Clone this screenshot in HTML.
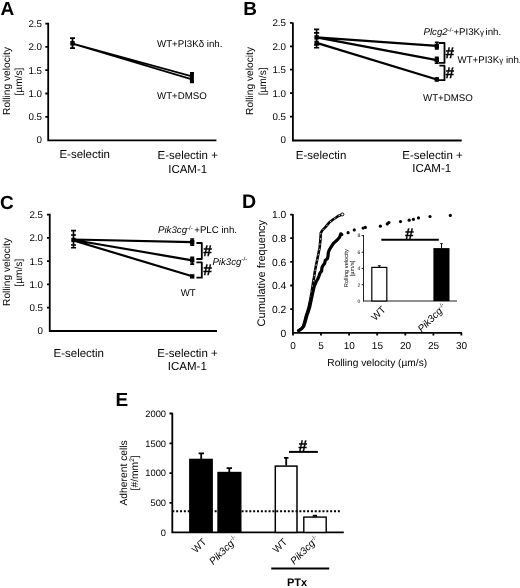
<!DOCTYPE html>
<html><head><meta charset="utf-8">
<style>
html,body{margin:0;padding:0;background:#fff;}
svg{display:block;filter:blur(0.35px);}
text{font-family:"Liberation Sans",sans-serif;fill:#000;text-rendering:geometricPrecision;}
.pl{font-weight:bold;font-size:19px;}
.tk{font-size:9.8px;}
.xl{font-size:11.5px;}
.an{font-size:9.7px;}
.yl{font-size:10.2px;}
.hs{font-size:15.5px;font-weight:bold;stroke:#000;stroke-width:0.35px;}
</style></head><body>
<svg width="520" height="588" viewBox="0 0 520 588">
<rect width="520" height="588" fill="#fff"/>

<!-- ============ PANEL A ============ -->
<g id="A">
<text class="pl" x="0.5" y="14.8">A</text>
<g stroke="#000" stroke-width="1.8" fill="none">
<path d="M48.2,22.8V141.2M47.3,140.3H216.4"/>
<path d="M45.3,23.6H48M45.3,46.9H48M45.3,70.2H48M45.3,93.5H48M45.3,116.8H48"/>
</g>
<g class="tk" text-anchor="end">
<text x="42" y="26.9">2.5</text>
<text x="42" y="50.2">2.0</text>
<text x="42" y="73.5">1.5</text>
<text x="42" y="96.8">1.0</text>
<text x="42" y="120.1">0.5</text>
<text x="42" y="143.4">0</text>
</g>
<text class="yl" transform="translate(9.8,81) rotate(-90)" text-anchor="middle">Rolling velocity</text>
<text class="yl" transform="translate(22,81.6) rotate(-90)" text-anchor="middle">[µm/s]</text>
<g stroke="#000" fill="none">
<path d="M72.5,43.5L192,76.4M72.5,43.8L192,79.4" stroke-width="1.7"/>
<path d="M72.5,38.1V48.1M70,38.1H75M70,48.1H75" stroke-width="1.8"/>
<path d="M192,73.1V82.3M190,73.1H194M190,82.3H194" stroke-width="2"/>
</g>
<rect x="70.3" y="41.1" width="4.4" height="4.4" fill="#000"/>
<rect x="189.9" y="73.6" width="4" height="8.4" fill="#000"/>
<text class="an" x="157" y="47">WT+PI3Kδ inh.</text>
<text class="an" x="157" y="98.9">WT+DMSO</text>
<text class="xl" x="59.4" y="158.4">E-selectin</text>
<text class="xl" x="157.5" y="158.7">E-selectin +</text>
<text class="xl" x="168.2" y="172.5">ICAM-1</text>
</g>

<!-- ============ PANEL B ============ -->
<g id="B">
<text class="pl" x="243.3" y="15">B</text>
<g stroke="#000" stroke-width="1.8" fill="none">
<path d="M292.9,22.4V141.4M292,140.5H461.7"/>
<path d="M290,22.9H292.7M290,46.3H292.7M290,69.7H292.7M290,93.2H292.7M290,116.6H292.7"/>
</g>
<g class="tk" text-anchor="end">
<text x="286" y="26.3">2.5</text>
<text x="286" y="49.7">2.0</text>
<text x="286" y="73.1">1.5</text>
<text x="286" y="96.6">1.0</text>
<text x="286" y="120">0.5</text>
<text x="286" y="143.4">0</text>
</g>
<text class="yl" transform="translate(253.2,81) rotate(-90)" text-anchor="middle">Rolling velocity</text>
<text class="yl" transform="translate(265.6,81.4) rotate(-90)" text-anchor="middle">[µm/s]</text>
<g stroke="#000" fill="none">
<path d="M316.6,37.3L436.8,45.8M316.6,37.3L436.8,60.1M316.6,42.9L436.8,79.5" stroke-width="2.2"/>
<path d="M316.6,29.4V47.75M314,29.4H319.2M314,32.9H319.2M314,47.75H319.2M314,45H319.2" stroke-width="1.6"/>
<path d="M436.8,42.2V48.9M434.8,42.2H438.8M434.8,48.9H438.8M436.8,57.3V63.2M434.8,57.3H438.8M434.8,63.2H438.8M436.8,77.1V81.5" stroke-width="1.6"/>
<path d="M438.9,43H444.5V62.9H438.9M439.4,65.7H444.5V80.2H438" stroke-width="1.8" stroke-linejoin="round"/>
</g>
<rect x="314.4" y="35.2" width="4.4" height="4.4" fill="#000"/>
<rect x="314.4" y="40.7" width="4.4" height="4.4" fill="#000"/>
<rect x="434.6" y="43.6" width="4.4" height="4.4" fill="#000"/>
<rect x="434.6" y="57.9" width="4.4" height="4.4" fill="#000"/>
<rect x="434.6" y="77.3" width="4.4" height="4.4" fill="#000"/>
<text class="hs" x="445.6" y="58">#</text>
<text class="hs" x="445.6" y="78">#</text>
<text class="an" x="423.5" y="35.4"><tspan font-style="italic">Plcg2</tspan><tspan font-size="6" dy="-3.5">-/-</tspan><tspan dy="3.5">+PI3K</tspan><tspan font-size="8">γ</tspan><tspan dx="-1.2"> inh.</tspan></text>
<text class="an" x="457.5" y="63.3">WT+PI3K<tspan font-size="8">γ</tspan> inh.</text>
<text class="an" x="423" y="101.2">WT+DMSO</text>
<text class="xl" x="295.8" y="158.5">E-selectin</text>
<text class="xl" x="402.3" y="159.2">E-selectin +</text>
<text class="xl" x="412.2" y="172.3">ICAM-1</text>
</g>

<!-- ============ PANEL C ============ -->
<g id="C">
<text class="pl" x="0" y="209.4">C</text>
<g stroke="#000" stroke-width="1.8" fill="none">
<path d="M49.75,213.7V331.9M48.85,331H217"/>
<path d="M47,214.6H49.5M47,237.9H49.5M47,261.2H49.5M47,284.4H49.5M47,307.7H49.5"/>
</g>
<g class="tk" text-anchor="end">
<text x="43" y="217.9">2.5</text>
<text x="43" y="241.2">2.0</text>
<text x="43" y="264.5">1.5</text>
<text x="43" y="287.7">1.0</text>
<text x="43" y="311">0.5</text>
<text x="43" y="334.3">0</text>
</g>
<text class="yl" transform="translate(10.4,272) rotate(-90)" text-anchor="middle">Rolling velocity</text>
<text class="yl" transform="translate(22.3,272.7) rotate(-90)" text-anchor="middle">[µm/s]</text>
<g stroke="#000" fill="none">
<path d="M73.5,239.5L192.2,242.2M73.5,240L192.2,260.3M73.5,240.5L192.2,276.2" stroke-width="2.2"/>
<path d="M73.5,230.6V247.75M71,230.6H76M71,235H76M71,245H76M71,247.75H76" stroke-width="1.6"/>
<path d="M192.2,239V245.1M190.2,239H194.2M190.2,245.1H194.2M192.2,257.2V264.1M190.2,257.2H194.2M190.2,264.1H194.2" stroke-width="1.6"/>
<path d="M196.4,243H201.8V259H196.4M196.4,262.4H201.8V277.7H196.4" stroke-width="1.8" stroke-linejoin="round"/>
</g>
<rect x="71.3" y="237.8" width="4.4" height="4.4" fill="#000"/>
<rect x="190" y="240" width="4.4" height="4.4" fill="#000"/>
<rect x="190" y="258.1" width="4.4" height="4.4" fill="#000"/>
<rect x="190" y="274.2" width="4.4" height="4.4" fill="#000"/>
<text class="hs" x="203.3" y="255.6">#</text>
<text class="hs" x="203.3" y="275.3">#</text>
<text class="an" x="158" y="233"><tspan font-style="italic">Pik3cg</tspan><tspan font-size="6" dy="-3.5">-/-</tspan><tspan dy="3.5" dx="-1.2"> +PLC inh.</tspan></text>
<text class="an" x="212.4" y="264.7"><tspan font-style="italic">Pik3cg</tspan><tspan font-size="6" dy="-3.5">-/-</tspan></text>
<text class="an" x="180.7" y="296.2">WT</text>
<text class="xl" x="53.5" y="357">E-selectin</text>
<text class="xl" x="157.3" y="357">E-selectin +</text>
<text class="xl" x="167.8" y="370">ICAM-1</text>
</g>

<!-- ============ PANEL D ============ -->
<g id="D">
<text class="pl" x="242.1" y="208.3" style="font-size:19.6px">D</text>
<g stroke="#000" stroke-width="1.8" fill="none">
<path d="M292.9,214V333.7M292,332.8H462"/>
<path d="M290.2,214.6H292.7M290.2,238.2H292.7M290.2,261.9H292.7M290.2,285.5H292.7M290.2,309.2H292.7"/>
<path d="M293,332.8V335.6M321,332.8V335.6M349.1,332.8V335.6M377.2,332.8V335.6M405.3,332.8V335.6M433.4,332.8V335.6M461.4,332.8V335.6"/>
</g>
<g class="tk" text-anchor="end" style="font-size:10.3px">
<text x="286.3" y="218.3">1.0</text>
<text x="286.3" y="241.9">0.8</text>
<text x="286.3" y="265.6">0.6</text>
<text x="286.3" y="289.2">0.4</text>
<text x="286.3" y="312.9">0.2</text>
<text x="286.3" y="336.5">0</text>
</g>
<g class="tk" text-anchor="middle" style="font-size:10px">
<text x="293" y="348.8">0</text>
<text x="321" y="348.8">5</text>
<text x="349.3" y="348.8">10</text>
<text x="377.4" y="348.8">15</text>
<text x="405.5" y="348.8">20</text>
<text x="433.6" y="348.8">25</text>
<text x="461.6" y="348.8">30</text>
</g>
<text class="yl" x="327.3" y="366.2">Rolling velocity (µm/s)</text>
<text transform="translate(264.8,273.2) rotate(-90)" text-anchor="middle" style="font-size:11px">Cumulative frequency</text>
<!-- curves -->
<g fill="none" stroke-linejoin="round" stroke-linecap="round">
<polyline stroke="#000" stroke-width="2.6" points="298.2,330.6 301,328.9 303.2,326.2 304.6,321 305.9,316 307.4,311.5 308.8,306.5 310.2,300 311.5,293 312.6,286 313.3,281 314,277.5 315,270.8 316.5,263.1 318.1,255.4 319.6,247.7 320.4,240 320.8,233 322.3,230.3 325.4,227.2 329.2,222.6 333.1,219.5 335.4,218 338.8,215.7 342.3,214.5"/>
<polyline stroke="#fff" stroke-width="0.8" stroke-dasharray="0.8 4.5" points="298.2,330.6 301,328.9 303.2,326.2 304.6,321 305.9,316 307.4,311.5 308.8,306.5 310.2,300 311.5,293 312.6,286 313.3,281 314,277.5 315,270.8 316.5,263.1 318.1,255.4 319.6,247.7 320.4,240 320.8,233 322.3,230.3 325.4,227.2 329.2,222.6 333.1,219.5 335.4,218 338.8,215.7 342.3,214.5"/>
<polyline stroke="#000" stroke-width="3.2" stroke-linejoin="miter" points="298.8,330.6 301.6,328.9 303.8,326.2 305.4,321 306.7,316 308.3,311.5 309.8,306.5 311.2,300 312.7,293 314.3,286 316.3,281.5 318,278.6 319,276 320,273 321.6,271 322,267.5 322.8,265.8 324.6,263.5 325.3,260.3 327.3,258.8 328,256.5 328.3,252.5 329.3,250 331,247 333.5,243.3 337,240.2 339.6,237.2 340.8,233.8"/>
</g>
<g fill="#000">
<circle cx="341.8" cy="234.5" r="1.6"/><circle cx="348.1" cy="232.7" r="1.6"/><circle cx="354.3" cy="229.9" r="1.6"/>
<circle cx="363.1" cy="228.1" r="1.6"/><circle cx="365.4" cy="227.4" r="1.6"/><circle cx="380.4" cy="226.2" r="1.6"/>
<circle cx="387.3" cy="223.9" r="1.6"/><circle cx="388.9" cy="222.5" r="1.6"/><circle cx="400.5" cy="221.6" r="1.6"/>
<circle cx="409.2" cy="220.2" r="1.6"/><circle cx="413.4" cy="219.3" r="1.6"/><circle cx="418.5" cy="217.9" r="1.6"/>
<circle cx="430" cy="216.5" r="1.6"/><circle cx="450.3" cy="215.4" r="1.6"/>
<circle cx="342.4" cy="214.4" r="1.5" fill="#fff" stroke="#000" stroke-width="0.9"/>
</g>
<!-- inset -->
<g stroke="#222" stroke-width="1" fill="none">
<path d="M363.5,235V301.5M363,301H457"/>
<path d="M361.6,235.6H363.5M361.6,252.2H363.5M361.6,268.4H363.5M361.6,284.7H363.5"/>
</g>
<g text-anchor="end" style="font-size:5px" fill="#222">
<text x="360.2" y="237.4">8</text>
<text x="360.2" y="254">6</text>
<text x="360.2" y="270.2">4</text>
<text x="360.2" y="286.5">2</text>
<text x="360.2" y="302.6">0</text>
</g>
<text transform="translate(347.9,268.2) rotate(-90)" text-anchor="middle" style="font-size:5.7px">Rolling velocity</text>
<text transform="translate(354.4,268.5) rotate(-90)" text-anchor="middle" style="font-size:5.7px">[µm/s]</text>
<rect x="371.8" y="267.4" width="15" height="33.6" fill="#fff" stroke="#000" stroke-width="1.2"/>
<path d="M379.3,267V265.8M377.8,265.8H380.8" stroke="#000" stroke-width="1"/>
<rect x="433.4" y="248.1" width="16.1" height="53" fill="#000"/>
<path d="M441.5,248.5V243.6M440.3,243.6H442.7" stroke="#000" stroke-width="1"/>
<text class="hs" x="405" y="238.5">#</text>
<path d="M381.3,239.7H438.8" stroke="#000" stroke-width="2"/>
<text transform="translate(386.2,310.3) rotate(-45)" text-anchor="end" style="font-size:10px">WT</text>
<text transform="translate(447,307.5) rotate(-45)" text-anchor="end" style="font-size:10px"><tspan font-style="italic">Pik3cg</tspan><tspan font-size="6" dy="-3.5">-/-</tspan></text>
</g>

<!-- ============ PANEL E ============ -->
<g id="E">
<text class="pl" x="115.5" y="406.2">E</text>
<g stroke="#000" stroke-width="1.8" fill="none">
<path d="M172.3,412.7V533.3M171.4,532.4H343.8"/>
<path d="M169.5,413.5H172.1M169.5,443.3H172.1M169.5,473.1H172.1M169.5,502.8H172.1"/>
</g>
<g class="tk" text-anchor="end" style="font-size:9.3px">
<text x="166" y="416.8">2000</text>
<text x="166" y="446.6">1500</text>
<text x="166" y="476.4">1000</text>
<text x="166" y="506.1">500</text>
<text x="166" y="535.8">0</text>
</g>
<text transform="translate(127,472.9) rotate(-90)" text-anchor="middle" style="font-size:10.3px">Adherent cells</text>
<text transform="translate(138.4,472.9) rotate(-90)" text-anchor="middle" style="font-size:10.3px">[#/mm<tspan font-size="6.5" dy="-4">2</tspan><tspan dy="4">]</tspan></text>
<rect x="189.1" y="458.7" width="23.8" height="73.7" fill="#000"/>
<rect x="217.3" y="471.8" width="24.2" height="60.6" fill="#000"/>
<rect x="275.3" y="466.1" width="21.7" height="66.3" fill="#fff" stroke="#000" stroke-width="1.5"/>
<rect x="303.8" y="517.1" width="22.4" height="15.3" fill="#fff" stroke="#000" stroke-width="1.4"/><rect x="312.7" y="514.8" width="4.3" height="2" fill="#000"/>
<g stroke="#000" fill="none" stroke-width="1.8">
<path d="M201.2,459V453.3M198.6,453.3H204"/>
<path d="M229.3,472V468.1M226.6,468.1H232"/>
<path d="M286.2,465.5V457.9M284,457.9H288.5"/>
<path d="M172.3,511.2H341" stroke-width="2" stroke-dasharray="2 1.85"/>
<path d="M289,451.9H317.9" stroke-width="2"/>
<path d="M271.25,568.5H329.2" stroke-width="2"/>
</g>
<text class="hs" x="298.5" y="450.8">#</text>
<g style="font-size:10px" text-anchor="end">
<text transform="translate(207,542.5) rotate(-45)">WT</text>
<text transform="translate(238.5,540) rotate(-45)"><tspan font-style="italic">Pik3cg</tspan><tspan font-size="6" dy="-3.5">-/-</tspan></text>
<text transform="translate(287.7,542.5) rotate(-45)">WT</text>
<text transform="translate(319.5,539.8) rotate(-45)"><tspan font-style="italic">Pik3cg</tspan><tspan font-size="6" dy="-3.5">-/-</tspan></text>
</g>
<text x="287" y="585.8" style="font-size:11px;font-weight:bold">PTx</text>
</g>

</svg>
</body></html>
